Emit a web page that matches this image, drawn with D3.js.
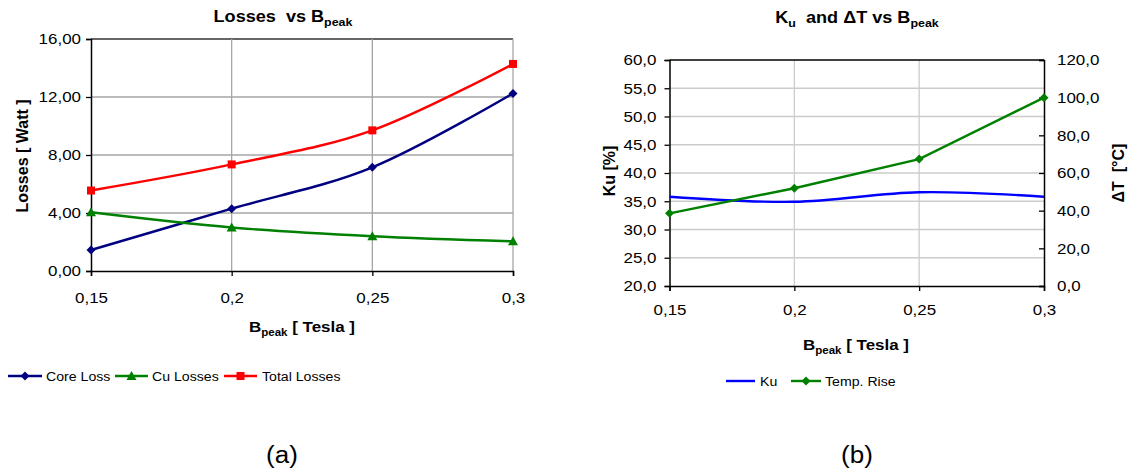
<!DOCTYPE html>
<html>
<head>
<meta charset="utf-8">
<script src="https://cdn.jsdelivr.net/npm/d3@7"></script>
<style>
  body { margin: 0; background: #fff; }
  text { font-family: "Liberation Sans", Arial, sans-serif; fill: #000; white-space: pre; }
</style>
</head>
<body>
<div id="chart"></div>
<script>
// values
var bpeak = [0.15, 0.2, 0.25, 0.3];
var bpeakLabels = ["0,15", "0,2", "0,25", "0,3"];
var coreLoss = [1.45, 4.3, 7.15, 12.25];
var cuLosses = [4.05, 3.0, 2.4, 2.05];
var totalLosses = [5.55, 7.35, 9.7, 14.28];
var ku = [35.8, 34.9, 36.6, 35.8];
var tempRise = [38.6, 51.9, 67.4, 100.0];
var lossTicks = [0, 4, 8, 12, 16];
var kuTicks = [20, 25, 30, 35, 40, 45, 50, 55, 60];
var tempTicks = [0, 20, 40, 60, 80, 100, 120];

var loc = d3.formatLocale({decimal: ",", thousands: ".", grouping: [3], currency: ["", ""]});
var fmt2 = loc.format(".2f"), fmt1 = loc.format(".1f");

// the original picture is a bit wider than its text, so text gets stretched too
var stretch = 1.13;

var svg = d3.select("#chart").append("svg")
    .attr("width", 1133).attr("height", 473);

var smooth = d3.curveCardinal.tension(0);

function bpeakText(g, x, y, size) {
    var t = g.append("text").attr("x", x).attr("y", y)
        .attr("text-anchor", "middle").attr("font-weight", "bold")
        .attr("font-size", size);
    t.append("tspan").text("B");
    t.append("tspan").attr("font-size", size * 0.68).attr("dy", 4).text("peak");
    t.append("tspan").attr("dy", -4).text(" [ Tesla ]");
    return t;
}

function marker(g, shape, x, y, color) {
    if (shape == "diamond") {
        g.append("path").attr("d", "M" + x + "," + (y - 4.5) + "L" + (x + 4.5) + "," + y +
            "L" + x + "," + (y + 4.5) + "L" + (x - 4.5) + "," + y + "Z").attr("fill", color);
    } else if (shape == "square") {
        g.append("rect").attr("x", x - 4).attr("y", y - 4).attr("width", 8).attr("height", 8).attr("fill", color);
    } else if (shape == "triangle") {
        g.append("path").attr("d", "M" + x + "," + (y - 5) + "L" + (x + 5) + "," + (y + 4) +
            "L" + (x - 5) + "," + (y + 4) + "Z").attr("fill", color);
    }
}

// ---------- chart (a): losses ----------
var ga = svg.append("g");
var xa = d3.scaleLinear().domain([0.15, 0.3]).range([91, 513]);
var ya = d3.scaleLinear().domain([0, 16]).range([271, 39]);

ga.selectAll("line.hg").data(lossTicks.slice(1)).enter().append("line")
    .attr("x1", xa(0.15)).attr("x2", xa(0.3))
    .attr("y1", function(d) { return ya(d); }).attr("y2", function(d) { return ya(d); })
    .attr("stroke", function(d) { return d == 16 ? "#333" : "#a6a6a6"; }).attr("stroke-width", 1.3);
ga.selectAll("line.vg").data(bpeak.slice(1)).enter().append("line")
    .attr("x1", function(d) { return xa(d); }).attr("x2", function(d) { return xa(d); })
    .attr("y1", ya(16)).attr("y2", ya(0))
    .attr("stroke", "#a6a6a6").attr("stroke-width", 1.3);

var axL = ga.append("g").attr("transform", "translate(" + xa(0.15) + ",0)")
    .call(d3.axisLeft(ya).tickValues(lossTicks).tickFormat(fmt2).tickSize(5).tickPadding(5));
var axB = ga.append("g").attr("transform", "translate(0," + ya(0) + ")")
    .call(d3.axisBottom(xa).tickValues(bpeak).tickFormat(function(d, i) { return bpeakLabels[i]; })
        .tickSize(5).tickPadding(16));
[axL, axB].forEach(function(a) {
    a.select(".domain").attr("stroke", "#000").attr("stroke-width", 1.5);
    a.selectAll(".tick line").attr("stroke", "#000").attr("stroke-width", 1.3);
    a.selectAll("text").attr("font-size", 15).attr("font-family", "Liberation Sans, Arial");
});

var seriesA = [
    {name: "Core Loss", values: coreLoss, color: "#000080", shape: "diamond"},
    {name: "Cu Losses", values: cuLosses, color: "#008000", shape: "triangle"},
    {name: "Total Losses", values: totalLosses, color: "#ff0000", shape: "square"}
];
var lineA = d3.line().x(function(d) { return xa(d[0]); }).y(function(d) { return ya(d[1]); }).curve(smooth);
seriesA.forEach(function(s) {
    var pts = bpeak.map(function(b, i) { return [b, s.values[i]]; });
    ga.append("path").attr("d", lineA(pts)).attr("fill", "none")
        .attr("stroke", s.color).attr("stroke-width", 2.4);
    pts.forEach(function(p) { marker(ga, s.shape, xa(p[0]), ya(p[1]), s.color); });
});

ga.append("text").attr("class", "rot").attr("transform", "translate(28,156) rotate(-90)")
    .attr("text-anchor", "middle").attr("font-weight", "bold").attr("font-size", 16)
    .text("Losses [ Watt ]");

var ta = ga.append("text").attr("x", 283).attr("y", 22).attr("text-anchor", "middle")
    .attr("font-weight", "bold").attr("font-size", 16);
ta.append("tspan").text("Losses  vs B");
ta.append("tspan").attr("font-size", 11).attr("dy", 4).text("peak");

bpeakText(ga, 302, 332, 15);

var legA = [[8, 42, 46], [115, 148, 152], [224, 257, 262]];
seriesA.forEach(function(s, i) {
    var l = legA[i], y = 376;
    ga.append("line").attr("x1", l[0]).attr("x2", l[1]).attr("y1", y).attr("y2", y)
        .attr("stroke", s.color).attr("stroke-width", 2.4);
    marker(ga, s.shape, (l[0] + l[1]) / 2, y, s.color);
    ga.append("text").attr("x", l[2]).attr("y", y + 4.5).attr("font-size", 12.5).text(s.name);
});

ga.append("text").attr("x", 282).attr("y", 463).attr("text-anchor", "middle")
    .attr("font-size", 23).text("(a)");

// ---------- chart (b): Ku and delta T ----------
var gb = svg.append("g");
var xb = d3.scaleLinear().domain([0.15, 0.3]).range([669.5, 1044]);
var yk = d3.scaleLinear().domain([20, 60]).range([286, 60]);
var yt = d3.scaleLinear().domain([0, 120]).range([286, 60]);

gb.selectAll("line.hg").data(kuTicks.slice(1, -1)).enter().append("line")
    .attr("x1", xb(0.15)).attr("x2", xb(0.3))
    .attr("y1", function(d) { return yk(d); }).attr("y2", function(d) { return yk(d); })
    .attr("stroke", "#cccccc").attr("stroke-width", 1.3);
gb.selectAll("line.vg").data(bpeak.slice(1, -1)).enter().append("line")
    .attr("x1", function(d) { return xb(d); }).attr("x2", function(d) { return xb(d); })
    .attr("y1", yk(60)).attr("y2", yk(20))
    .attr("stroke", "#cccccc").attr("stroke-width", 1.3);
gb.append("line").attr("x1", xb(0.15)).attr("x2", xb(0.3)).attr("y1", yk(60)).attr("y2", yk(60))
    .attr("stroke", "#000").attr("stroke-width", 1.5);

var bL = gb.append("g").attr("transform", "translate(" + xb(0.15) + ",0)")
    .call(d3.axisLeft(yk).tickValues(kuTicks).tickFormat(fmt1).tickSize(5).tickPadding(8));
var bR = gb.append("g").attr("transform", "translate(" + xb(0.3) + ",0)")
    .call(d3.axisRight(yt).tickValues(tempTicks).tickFormat(fmt1).tickSize(-5).tickPadding(13));
var bB = gb.append("g").attr("transform", "translate(0," + yk(20) + ")")
    .call(d3.axisBottom(xb).tickValues(bpeak).tickFormat(function(d, i) { return bpeakLabels[i]; })
        .tickSize(5).tickPadding(13));
[bL, bR, bB].forEach(function(a) {
    a.select(".domain").attr("stroke", "#000").attr("stroke-width", 1.5);
    a.selectAll(".tick line").attr("stroke", "#000").attr("stroke-width", 1.3);
    a.selectAll("text").attr("font-size", 15).attr("font-family", "Liberation Sans, Arial");
});
bR.selectAll("text").attr("x", 13);

var kuPts = bpeak.map(function(b, i) { return [b, ku[i]]; });
var tPts = bpeak.map(function(b, i) { return [b, tempRise[i]]; });
gb.append("path").attr("d", d3.line().x(function(d) { return xb(d[0]); })
        .y(function(d) { return yk(d[1]); }).curve(smooth)(kuPts))
    .attr("fill", "none").attr("stroke", "#0000ff").attr("stroke-width", 2.4);
gb.append("path").attr("d", d3.line().x(function(d) { return xb(d[0]); })
        .y(function(d) { return yt(d[1]); })(tPts))
    .attr("fill", "none").attr("stroke", "#008000").attr("stroke-width", 2.4);
tPts.forEach(function(p) { marker(gb, "diamond", xb(p[0]), yt(p[1]), "#008000"); });

gb.append("text").attr("class", "rot").attr("transform", "translate(615,171) rotate(-90)")
    .attr("text-anchor", "middle").attr("font-weight", "bold").attr("font-size", 16)
    .text("Ku [%]");
gb.append("text").attr("class", "rot").attr("transform", "translate(1124,173) rotate(-90)")
    .attr("text-anchor", "middle").attr("font-weight", "bold").attr("font-size", 16)
    .text("\u0394T  [\u00b0C]");

var tb = gb.append("text").attr("x", 857).attr("y", 23).attr("text-anchor", "middle")
    .attr("font-weight", "bold").attr("font-size", 16);
tb.append("tspan").text("K");
tb.append("tspan").attr("font-size", 11).attr("dy", 4).text("u");
tb.append("tspan").attr("dy", -4).text("  and \u0394T vs B");
tb.append("tspan").attr("font-size", 11).attr("dy", 4).text("peak");

bpeakText(gb, 856, 350, 15);

gb.append("line").attr("x1", 726).attr("x2", 755).attr("y1", 381).attr("y2", 381)
    .attr("stroke", "#0000ff").attr("stroke-width", 2.4);
gb.append("text").attr("x", 760).attr("y", 385.5).attr("font-size", 12.5).text("Ku");
gb.append("line").attr("x1", 791).attr("x2", 821).attr("y1", 381).attr("y2", 381)
    .attr("stroke", "#008000").attr("stroke-width", 2.4);
marker(gb, "diamond", 806, 381, "#008000");
gb.append("text").attr("x", 825).attr("y", 385.5).attr("font-size", 12.5).text("Temp. Rise");

gb.append("text").attr("x", 857).attr("y", 463).attr("text-anchor", "middle")
    .attr("font-size", 23).text("(b)");

// widen horizontal text like the source picture
svg.selectAll("text").each(function() {
    if (this.getAttribute("class") == "rot") return;
    var w = this.getComputedTextLength();
    d3.select(this).attr("textLength", w * stretch).attr("lengthAdjust", "spacingAndGlyphs");
});
</script>
</body>
</html>
